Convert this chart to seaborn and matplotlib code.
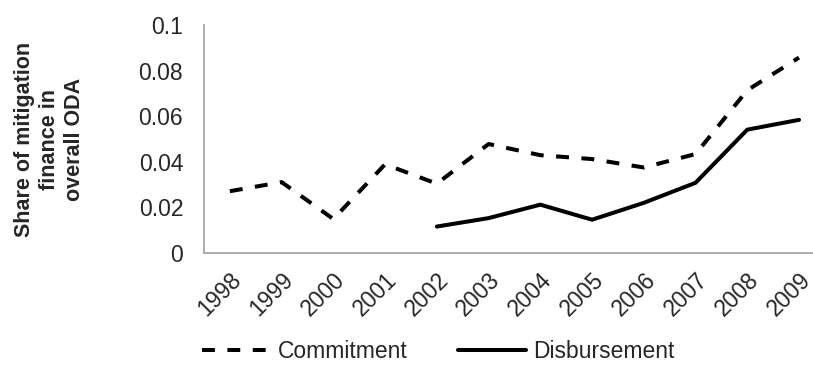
import matplotlib
matplotlib.use("Agg")
import matplotlib.pyplot as plt
import matplotlib.transforms as mtransforms
import seaborn as sns
import pandas as pd
import numpy as np

years = [1998, 1999, 2000, 2001, 2002, 2003, 2004, 2005, 2006, 2007, 2008, 2009]
commitment = [0.0271, 0.0311, 0.0149, 0.0389, 0.0304, 0.0478, 0.0429, 0.0412,
              0.0375, 0.0434, 0.0714, 0.0857]
disbursement = [np.nan, np.nan, np.nan, np.nan, 0.0116, 0.0153, 0.0212, 0.0146,
                0.0220, 0.0308, 0.0541, 0.0584]
series_names = ["Commitment", "Disbursement"]
y_ticks = [0, 0.02, 0.04, 0.06, 0.08, 0.1]
y_tick_labels = ["0", "0.02", "0.04", "0.06", "0.08", "0.1"]
y_label = "Share of mitigation\nfinance in\noverall ODA"

df = pd.concat([
    pd.DataFrame({"year": years, "share": commitment, "series": series_names[0]}),
    pd.DataFrame({"year": years, "share": disbursement, "series": series_names[1]}),
]).dropna()

sns.set_theme(style="white")
plt.rcParams["font.family"] = ["Liberation Sans", "DejaVu Sans"]

fig = plt.figure(figsize=(8.13, 3.65), dpi=100)
ax = fig.add_axes([204 / 813, 1 - 253 / 365, 1 - 204 / 813, (253 - 25) / 365])

sns.lineplot(
    data=df, x="year", y="share", style="series", style_order=series_names,
    dashes={"Commitment": (3.2, 3.1), "Disbursement": ""},
    color="black", linewidth=2.9, legend=False, ax=ax,
)

ax.set_xlim(1997.5, 2009.27)
ax.set_ylim(0, 0.1)
ax.set_xticks(years)
ax.set_xticklabels([str(y) for y in years], rotation=45, ha="right",
                   rotation_mode="anchor", fontsize=16.5)
# nudge the slanted year labels slightly to the left
shift = mtransforms.ScaledTranslation(-3 / 100, 0, fig.dpi_scale_trans)
for lbl in ax.get_xticklabels():
    lbl.set_transform(lbl.get_transform() + shift)
ax.set_yticks(y_ticks)
ax.set_yticklabels(y_tick_labels, fontsize=16.5)
ax.tick_params(axis="y", length=0, pad=15)
ax.tick_params(axis="x", length=0, pad=11)
ax.set_xlabel("")
ax.set_ylabel(y_label, fontsize=15.5, fontweight="bold", labelpad=38.5,
              linespacing=1.25)

for side in ["top", "right"]:
    ax.spines[side].set_visible(False)
for side in ["left", "bottom"]:
    ax.spines[side].set_color("#a6a6a6")
    ax.spines[side].set_linewidth(1.3)

handles = ax.get_lines()[:2]
fig.legend(handles, series_names, loc="center", bbox_to_anchor=(0.539, 0.036),
           ncol=2, frameon=False, fontsize=16.5, handlelength=3.0,
           handletextpad=0.3, columnspacing=2.2, borderpad=0, borderaxespad=0)

fig.savefig("out.png", dpi=100)
